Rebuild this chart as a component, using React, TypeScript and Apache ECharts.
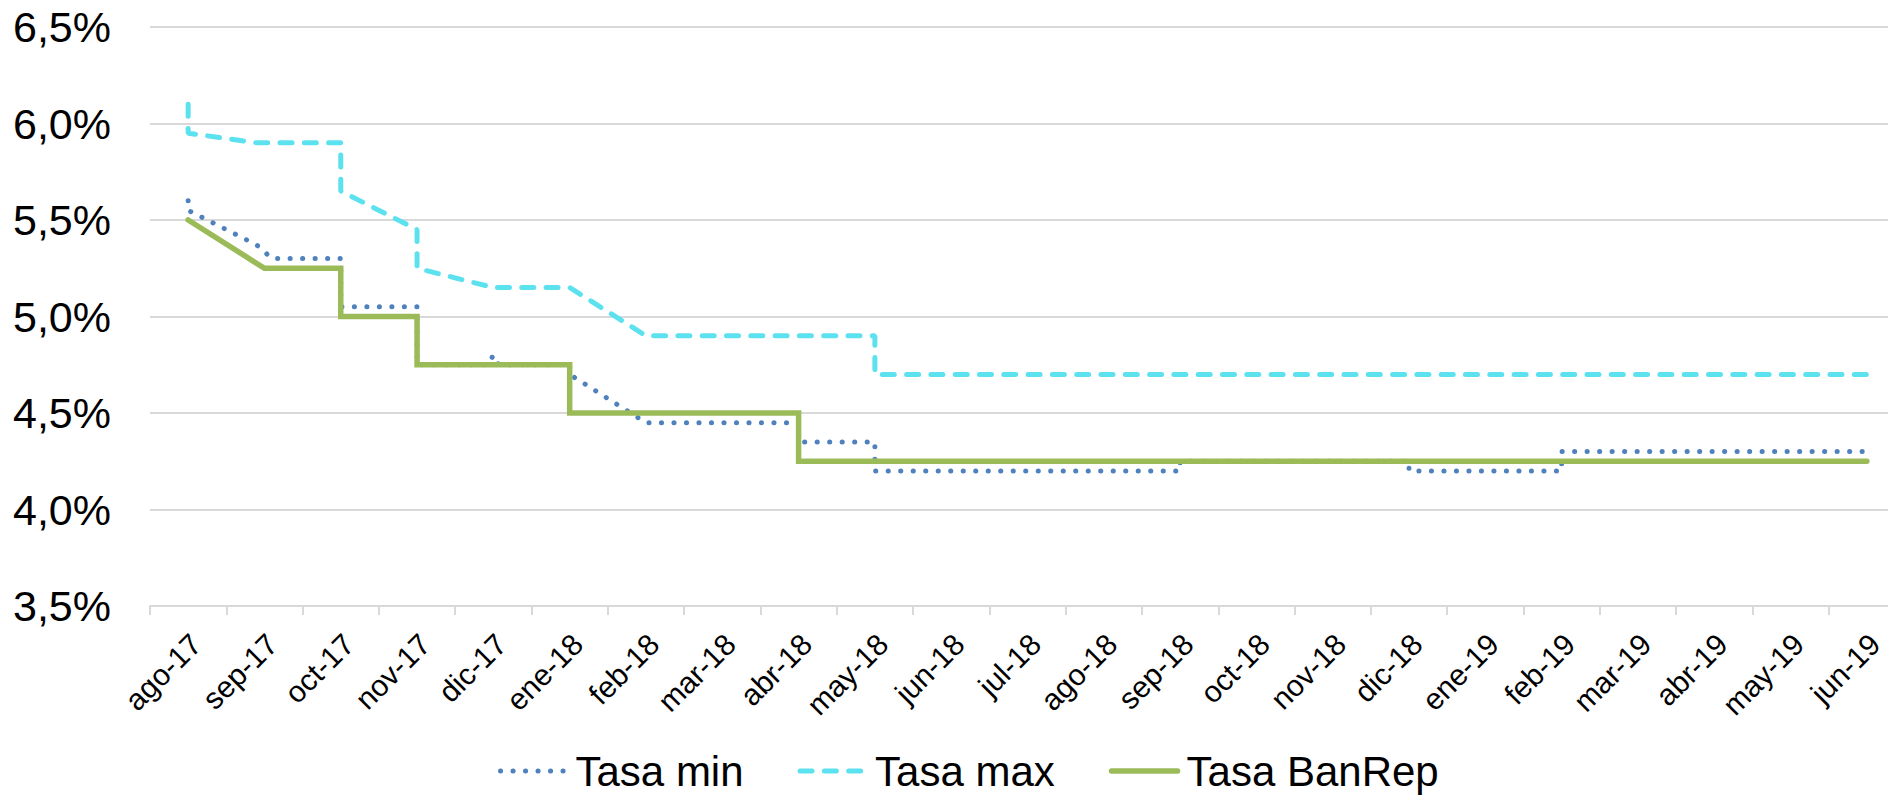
import React, { useEffect, useRef } from "react";
import * as echarts from "echarts";

// Month categories (x axis)
const categories: string[] = [
  "ago-17", "sep-17", "oct-17", "nov-17", "dic-17", "ene-18", "feb-18", "mar-18",
  "abr-18", "may-18", "jun-18", "jul-18", "ago-18", "sep-18", "oct-18", "nov-18",
  "dic-18", "ene-19", "feb-19", "mar-19", "abr-19", "may-19", "jun-19",
];

// Series: [month offset from ago-17, rate %]
const tasaMin: [number, number][] = [
  [0, 5.6], [0, 5.55], [0.9, 5.37], [1.1, 5.3], [2, 5.3], [2, 5.05], [3, 5.05],
  [3, 4.75], [3.93, 4.75], [4, 4.8], [4.07, 4.75], [5, 4.75], [5, 4.7], [6, 4.45],
  [8, 4.45], [8, 4.35], [9, 4.35], [9, 4.2], [13, 4.2], [13, 4.25], [16, 4.25],
  [16, 4.2], [18, 4.2], [18, 4.3], [22, 4.3],
];

const tasaMax: [number, number][] = [
  [0, 6.1], [0, 5.95], [0.9, 5.9], [2, 5.9], [2, 5.65], [3, 5.45], [3, 5.25],
  [4, 5.15], [5, 5.15], [6, 4.9], [9, 4.9], [9, 4.7], [22, 4.7],
];

const tasaBanRep: [number, number][] = [
  [0, 5.5], [1, 5.25], [2, 5.25], [2, 5.0], [3, 5.0], [3, 4.75], [5, 4.75],
  [5, 4.5], [8, 4.5], [8, 4.25], [22, 4.25],
];

const seriesNames = ["Tasa min", "Tasa max", "Tasa BanRep"];

// Y axis ticks
const Y_MIN = 3.5;
const Y_MAX = 6.5;
const Y_STEP = 0.5;

const FONT = "'Liberation Sans', Arial, sans-serif";
const GRID_COLOR = "#d9d9d9";

export default function App() {
  const ref = useRef<HTMLDivElement>(null);

  useEffect(() => {
    if (!ref.current) return;
    const chart = echarts.init(ref.current, undefined, { renderer: "svg" });
    const option: any = {
      animation: false,
      backgroundColor: "#ffffff",
      grid: [
        { left: 150, right: 15, top: 27, bottom: 190, containLabel: false },
        { left: 158, right: 7, top: 27, bottom: 190, containLabel: false },
      ],
      xAxis: [
        {
          type: "category",
          gridIndex: 0,
          data: categories,
          boundaryGap: true,
          axisLine: { show: true, lineStyle: { color: GRID_COLOR, width: 2 } },
          axisTick: { show: true, length: 9, interval: 0, lineStyle: { color: GRID_COLOR, width: 2 } },
          axisLabel: { show: false },
          splitLine: { show: false },
        },
        {
          type: "value",
          gridIndex: 0,
          min: -0.5,
          max: categories.length - 0.5,
          show: false,
          position: "bottom",
        },
        {
          type: "category",
          gridIndex: 1,
          data: categories,
          boundaryGap: true,
          axisLine: { show: false },
          axisTick: { show: false },
          splitLine: { show: false },
          axisLabel: {
            interval: 0,
            rotate: 45,
            margin: 33,
            fontSize: 30,
            color: "#000",
            fontFamily: FONT,
          },
        },
      ],
      yAxis: [
        {
          type: "value",
          gridIndex: 0,
          min: Y_MIN,
          max: Y_MAX,
          interval: Y_STEP,
          axisLine: { show: false },
          axisTick: { show: false },
          axisLabel: {
            margin: 39,
            fontSize: 43,
            color: "#000",
            fontFamily: FONT,
            formatter: (v: number) => v.toFixed(1).replace(".", ",") + "%",
          },
          splitLine: { show: true, lineStyle: { color: GRID_COLOR, width: 2 } },
        },
        {
          type: "value",
          gridIndex: 1,
          min: Y_MIN,
          max: Y_MAX,
          show: false,
          splitLine: { show: false },
        },
      ],
      legend: {
        left: 493,
        top: 745,
        itemWidth: 66,
        itemHeight: 10,
        itemGap: 54,
        data: seriesNames,
        itemStyle: { opacity: 0 },
        lineStyle: { width: "inherit" },
        textStyle: { fontSize: 42, color: "#000", fontFamily: FONT, padding: [0, 0, 0, 4] },
      },
      series: [
        {
          name: seriesNames[0],
          type: "line",
          xAxisIndex: 1,
          yAxisIndex: 0,
          data: tasaMin,
          symbol: "none",
          itemStyle: { color: "#4F81BD" },
          lineStyle: { color: "#4F81BD", width: 5, type: [0.1, 12.4], cap: "round" },
        },
        {
          name: seriesNames[1],
          type: "line",
          xAxisIndex: 1,
          yAxisIndex: 0,
          data: tasaMax,
          symbol: "none",
          itemStyle: { color: "#5CE1EF" },
          lineStyle: { color: "#5CE1EF", width: 5, type: [12, 12.3], cap: "round" },
        },
        {
          name: seriesNames[2],
          type: "line",
          xAxisIndex: 1,
          yAxisIndex: 0,
          data: tasaBanRep,
          symbol: "none",
          itemStyle: { color: "#9BBB59" },
          lineStyle: { color: "#9BBB59", width: 5.5, join: "miter", cap: "round" },
        },
      ],
    };
    chart.setOption(option);
    return () => chart.dispose();
  }, []);

  return (
    <div style={{ position: "absolute", left: 0, top: 0, width: 1888, height: 796, overflow: "hidden", background: "#fff" }}>
      <div ref={ref} style={{ width: 1920, height: 796 }} />
    </div>
  );
}
